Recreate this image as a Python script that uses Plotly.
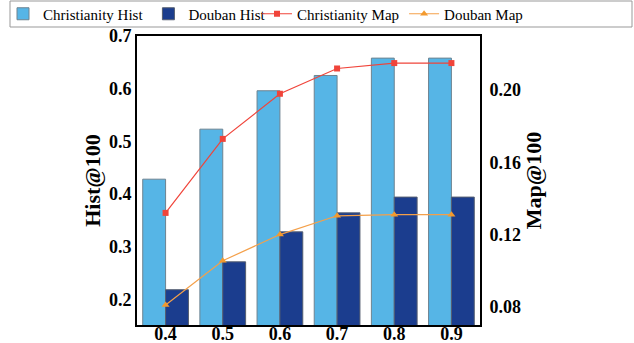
import plotly.graph_objects as go

categories = ["0.4", "0.5", "0.6", "0.7", "0.8", "0.9"]
christianity_hist = [0.428, 0.523, 0.596, 0.625, 0.658, 0.658]
douban_hist = [0.218, 0.271, 0.328, 0.364, 0.394, 0.394]
christianity_map = [0.132, 0.173, 0.198, 0.212, 0.215, 0.215]
douban_map = [0.081, 0.1055, 0.120, 0.1304, 0.131, 0.131]

font_family = "Liberation Serif"
L, R, T, B, W, H = 137, 154, 36, 18, 634, 343
pw, ph = W - L - R, H - T - B

fig = go.Figure()
fig.add_trace(go.Bar(x=categories, y=christianity_hist, name="Christianity Hist", legend="legend",
                     marker=dict(color="#56B5E6", line=dict(color="#6E8390", width=1))))
fig.add_trace(go.Bar(x=categories, y=douban_hist, name="Douban Hist", legend="legend",
                     marker=dict(color="#1B3D8E", line=dict(color="#555E70", width=1))))
fig.add_trace(go.Scatter(x=categories, y=christianity_map, name="Christianity Map", yaxis="y2",
                         legend="legend2", mode="lines+markers",
                         line=dict(color="#F0443A", width=1.2),
                         marker=dict(symbol="square", size=6, color="#F0443A")))
fig.add_trace(go.Scatter(x=categories, y=douban_map, name="Douban Map", yaxis="y2",
                         legend="legend2", mode="lines+markers",
                         line=dict(color="#F4A04A", width=1.2),
                         marker=dict(symbol="triangle-up", size=7, color="#F39A2E")))

# pixel -> paper coordinates
def px_x(p):
    return (p - L) / pw

def px_y(p):
    return (H - B - p) / ph

# frame around both legend blocks
fig.add_shape(type="rect", xref="paper", yref="paper",
              x0=px_x(10), x1=px_x(632), y0=px_y(27), y1=px_y(1),
              line=dict(color="#999999", width=1), fillcolor="rgba(0,0,0,0)", layer="above")

legend_common = dict(orientation="h", xref="paper", yref="paper",
                     xanchor="left", y=px_y(14), yanchor="middle",
                     borderwidth=0, bgcolor="rgba(0,0,0,0)",
                     font=dict(size=15, family=font_family, color="black"),
                     itemwidth=30, tracegroupgap=0)

fig.update_layout(
    width=W, height=H,
    margin=dict(l=L, r=R, t=T, b=B, autoexpand=False),
    paper_bgcolor="white", plot_bgcolor="white",
    font=dict(family=font_family, color="black"),
    barmode="group", bargap=0.2, bargroupgap=0,
    xaxis=dict(type="category", showline=True, linecolor="black", linewidth=2,
               mirror=True, ticks="", showgrid=False, automargin=False,
               ticklabelstandoff=-9,
               tickfont=dict(size=18, family=font_family, color="black", weight="bold")),
    yaxis=dict(range=[0.151, 0.7], tickvals=[0.2, 0.3, 0.4, 0.5, 0.6, 0.7],
               ticktext=["0.2", "0.3", "0.4", "0.5", "0.6", "0.7"],
               showline=True, linecolor="black", linewidth=2, ticks="", showgrid=False,
               zeroline=False, automargin=False,
               tickfont=dict(size=18, family=font_family, color="black", weight="bold"),
               title=dict(text="Hist@100", standoff=2,
                          font=dict(size=22, family=font_family, color="black", weight="bold"))),
    yaxis2=dict(overlaying="y", side="right", range=[0.0699, 0.230],
                tickvals=[0.08, 0.12, 0.16, 0.20],
                ticktext=["0.08", "0.12", "0.16", "0.20"],
                showline=True, linecolor="black", linewidth=2, ticks="", showgrid=False,
                zeroline=False, ticklabelstandoff=4, automargin=False,
                tickfont=dict(size=18, family=font_family, color="black", weight="bold"),
                title=dict(text="Map@100", standoff=0,
                           font=dict(size=22, family=font_family, color="black", weight="bold"))),
    legend=dict(x=px_x(3), **legend_common),
    legend2=dict(x=px_x(257), **legend_common),
)

fig.write_html("out.html", config={"displayModeBar": False},
               post_script="document.body.style.margin='0';")
